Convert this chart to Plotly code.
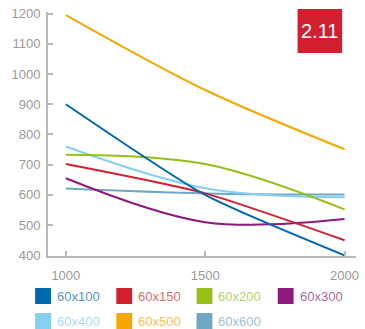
import plotly.graph_objects as go

x_vals = [1000, 1500, 2000]
series_names = ["60x100", "60x150", "60x200", "60x300", "60x400", "60x500", "60x600"]
series_colors = ["#0068b1", "#d41f30", "#95bf16", "#8e1a7e", "#84d0f0", "#f6a800", "#6fa8c4"]
v_60x100 = [900, 600, 400]
v_60x150 = [702, 605, 450]
v_60x200 = [733, 702, 552]
v_60x300 = [655, 510, 520]
v_60x400 = [760, 622, 592]
v_60x500 = [1195, 947, 751]
v_60x600 = [621, 605, 601]
series_values = [v_60x100, v_60x150, v_60x200, v_60x300, v_60x400, v_60x500, v_60x600]
series_smoothing = [0.6, 0.6, 1.0, 1.0, 1.0, 0.9, 1.0]
y_ticks = [400, 500, 600, 700, 800, 900, 1000, 1100, 1200]
x_ticks = [1000, 1500, 2000]
badge_text = "2.11"

W, H = 365, 329
ML, MR, MT, MB = 48, 6, 12, 73
PW, PH = W - ML - MR, H - MT - MB


def px(x):
    return (x - ML) / PW


def py(y):
    return (H - MB - y) / PH


def rgba(hexc, a):
    h = hexc.lstrip("#")
    r, g, b = int(h[0:2], 16), int(h[2:4], 16), int(h[4:6], 16)
    return f"rgba({r},{g},{b},{a})"


fig = go.Figure()
order = [6, 4, 2, 3, 1, 0, 5]
for i in order:
    fig.add_trace(go.Scatter(
        x=x_vals, y=series_values[i], mode="lines", name=series_names[i],
        line=dict(color=series_colors[i], width=2, shape="spline",
                  smoothing=series_smoothing[i]),
        showlegend=False, hoverinfo="skip",
    ))

axis_col = "#b8b8b8"
font_col = "#999999"
fig.update_layout(
    width=W, height=H,
    margin=dict(l=ML, r=MR, t=MT, b=MB),
    paper_bgcolor="white", plot_bgcolor="white",
    font=dict(family="Liberation Sans, Arial, sans-serif", size=13, color=font_col),
    xaxis=dict(range=[936, 2041], tickvals=x_ticks, ticks="inside", ticklen=5,
               tickwidth=2, tickcolor=axis_col, showline=True, linecolor=axis_col,
               linewidth=2, showgrid=False, zeroline=False,
               tickfont=dict(size=13, color=font_col), ticklabelstandoff=6),
    yaxis=dict(range=[398, 1205], tickvals=y_ticks, ticks="inside", ticklen=5,
               tickwidth=2, tickcolor=axis_col, showline=True, linecolor=axis_col,
               linewidth=2, showgrid=False, zeroline=False,
               tickfont=dict(size=13, color=font_col), ticklabelstandoff=3),
    showlegend=False,
)

shapes = []
annotations = []
# badge
shapes.append(dict(type="rect", xref="paper", yref="paper",
                   x0=px(300), x1=px(345), y0=py(53), y1=py(9),
                   fillcolor="#d21f2f", line=dict(width=0), layer="above"))
annotations.append(dict(xref="paper", yref="paper", x=px(322.5), y=py(31),
                        text=badge_text, showarrow=False, xanchor="center", yanchor="middle",
                        font=dict(family="Liberation Sans, Arial, sans-serif", size=20, color="white")))

# legend
col_x = [35, 117, 198, 280]
row_y = [288, 313]
for k, name in enumerate(series_names):
    r, c = divmod(k, 4)
    x0 = col_x[c]
    y0 = row_y[r]
    shapes.append(dict(type="rect", xref="paper", yref="paper",
                       x0=px(x0), x1=px(x0 + 16), y0=py(y0 + 16), y1=py(y0),
                       fillcolor=series_colors[k], line=dict(width=0)))
    annotations.append(dict(xref="paper", yref="paper", x=px(x0 + 20), y=py(y0 + 8),
                            text=name, showarrow=False, xanchor="left", yanchor="middle",
                            font=dict(size=13, color=rgba(series_colors[k], 0.72))))

fig.update_layout(shapes=shapes, annotations=annotations)
fig.write_html("out.html", config={"displayModeBar": False},
               post_script="document.body.style.margin='0px';document.body.style.overflow='hidden';")
